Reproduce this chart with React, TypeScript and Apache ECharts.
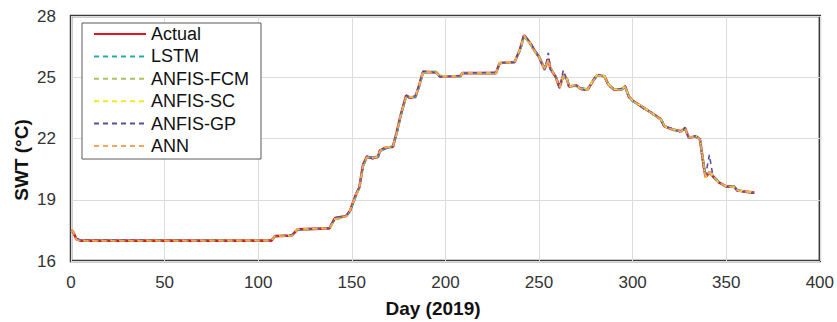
import React, { useEffect, useRef } from "react";
import * as echarts from "echarts";

const days = [0,1,3,5,107,109,118,121,138,141,
147,149,152,154,156,158,161,164,165,168,
172,174,176,179,181,184,186,188,195,197,
208,209,227,229,237,240,242,245,248,250,
253,255,256,259,261,263,265,266,270,272,
276,279,281,285,287,290,294,296,298,300,
306,311,315,317,321,326,328,330,334,336,
338,339,341,343,346,350,354,356,360,365];

const actual = [17.5,17.45,17.05,17.0,17.0,17.22,17.25,17.55,17.6,18.1,
18.2,18.45,19.2,19.6,20.7,21.1,21.05,21.1,21.4,21.55,
21.6,22.3,23.1,24.1,24.0,24.05,24.6,25.25,25.25,25.05,
25.05,25.2,25.2,25.7,25.75,26.4,27.05,26.7,26.25,26.0,
25.4,25.9,25.45,25.0,24.5,25.1,24.9,24.55,24.6,24.45,
24.4,24.85,25.1,25.05,24.65,24.4,24.4,24.55,24.05,23.85,
23.5,23.2,22.95,22.6,22.45,22.35,22.5,22.05,22.1,21.95,
20.65,20.1,20.35,20.15,19.85,19.65,19.65,19.45,19.4,19.35];

const lstm = [17.48,17.4,17.1,17.02,17.02,17.2,17.27,17.5,17.62,18.05,
18.22,18.4,19.1,19.65,20.6,21.05,21.1,21.08,21.35,21.5,
21.65,22.2,23.0,24.05,24.05,24.0,24.5,25.2,25.28,25.08,
25.03,25.18,25.22,25.65,25.78,26.3,26.95,26.75,26.3,26.05,
25.45,25.8,25.5,25.05,24.55,25.0,24.95,24.6,24.55,24.5,
24.42,24.8,25.05,25.08,24.7,24.45,24.38,24.5,24.1,23.8,
23.55,23.15,23.0,22.65,22.4,22.38,22.45,22.1,22.05,22.0,
20.75,20.2,20.3,20.2,19.9,19.6,19.68,19.5,19.38,19.33];

const anfisFcm = [17.45,17.42,17.08,17.0,16.98,17.18,17.24,17.52,17.58,18.0,
18.18,18.42,19.15,19.55,20.65,21.12,21.02,21.12,21.38,21.52,
21.58,22.25,23.05,24.0,24.02,24.08,24.55,25.22,25.23,25.1,
25.02,25.22,25.18,25.68,25.72,26.35,27.0,26.65,26.2,26.02,
25.42,25.85,25.48,24.95,24.52,25.05,24.88,24.58,24.62,24.42,
24.38,24.9,25.08,25.02,24.62,24.42,24.42,24.52,24.08,23.82,
23.48,23.22,22.92,22.62,22.48,22.33,22.48,22.08,22.08,21.9,
20.7,20.15,20.38,20.12,19.82,19.68,19.62,19.48,19.42,19.36];

const anfisSc = [17.52,17.46,17.06,17.01,17.01,17.24,17.26,17.56,17.61,18.08,
18.21,18.47,19.22,19.58,20.72,21.08,21.06,21.09,21.42,21.56,
21.62,22.32,23.12,24.08,24.02,24.06,24.62,25.26,25.24,25.06,
25.06,25.21,25.21,25.72,25.76,26.42,27.02,26.72,26.22,25.98,
25.38,25.92,25.44,25.02,24.48,25.12,24.92,24.56,24.58,24.46,
24.41,24.86,25.12,25.06,24.66,24.41,24.41,24.56,24.04,23.86,
23.52,23.18,22.96,22.58,22.46,22.36,22.52,22.04,22.12,21.96,
20.6,20.08,20.36,20.16,19.84,19.66,19.64,19.44,19.41,19.34];

const anfisGp = [17.5,17.4,17.1,17.03,17.0,17.2,17.28,17.52,17.6,18.12,
18.22,18.4,19.25,19.62,20.75,21.15,21.0,21.12,21.45,21.5,
21.62,22.35,23.05,24.15,23.95,24.1,24.65,25.3,25.22,25.02,
25.08,25.2,25.24,25.7,25.72,26.45,27.1,26.75,26.3,25.95,
25.35,26.2,25.4,25.0,24.45,25.35,24.85,24.55,24.6,24.4,
24.35,24.88,25.15,25.02,24.6,24.38,24.45,24.6,24.0,23.88,
23.45,23.25,22.9,22.55,22.5,22.3,22.55,22.0,22.15,21.92,
20.55,20.2,21.2,20.1,19.88,19.62,19.7,19.42,19.38,19.32];

const ann = [17.46,17.44,17.04,16.99,17.0,17.21,17.23,17.54,17.59,18.06,
18.19,18.44,19.18,19.62,20.68,21.09,21.04,21.11,21.39,21.54,
21.59,22.28,23.08,24.06,24.01,24.04,24.58,25.24,25.26,25.04,
25.04,25.19,25.19,25.69,25.74,26.38,27.04,26.68,26.24,26.01,
25.41,25.88,25.46,24.99,24.51,25.08,24.91,24.54,24.61,24.44,
24.39,24.84,25.09,25.04,24.64,24.39,24.39,24.54,24.06,23.84,
23.51,23.19,22.94,22.61,22.44,22.34,22.49,22.06,22.09,21.94,
20.66,20.11,20.34,20.14,19.86,19.64,19.66,19.46,19.39,19.36];

const seriesNames = ["Actual", "LSTM", "ANFIS-FCM", "ANFIS-SC", "ANFIS-GP", "ANN"];
const seriesValues = [actual, lstm, anfisFcm, anfisSc, anfisGp, ann];
const seriesColors = ["#e0141c", "#2aa8b2", "#a9c45c", "#ecec1e", "#5a4f9a", "#f5a65b"];

const FONT = "'Liberation Sans', Arial, sans-serif";

export default function App() {
  const ref = useRef<HTMLDivElement>(null);
  useEffect(() => {
    if (!ref.current) return;
    const chart = echarts.init(ref.current, null, { renderer: "svg" });
    const series = seriesNames.map((name, i) => ({
      name,
      type: "line",
      data: days.map((d, k) => [d, seriesValues[i][k]]),
      symbol: "none",
      showSymbol: false,
      lineStyle: i === 0
        ? { color: seriesColors[i], width: 2.6, type: "solid" }
        : { color: seriesColors[i], width: 1.6, type: [5, 4] },
      itemStyle: { color: seriesColors[i] },
      z: 2 + i,
    }));
    chart.setOption({
      animation: false,
      backgroundColor: "#ffffff",
      textStyle: { fontFamily: FONT },
      grid: {
        left: 71, right: 16, top: 16, bottom: 61,
        show: true, borderColor: "#3a3a3a", borderWidth: 2.5, backgroundColor: "transparent",
      },
      legend: {
        orient: "vertical",
        left: 82, top: 23,
        data: seriesNames,
        borderColor: "#5a5a5a", borderWidth: 1,
        backgroundColor: "#ffffff",
        padding: [2, 12, 4, 11],
        itemWidth: 52, itemHeight: 14, itemGap: 4.4,
        itemStyle: { opacity: 0 },
        textStyle: { fontSize: 18, color: "#111", fontFamily: FONT, lineHeight: 18, padding: [0, 0, 0, 0] },
      },
      xAxis: {
        type: "value", min: 0, max: 400, interval: 50,
        axisLine: { show: false }, axisTick: { show: false },
        splitLine: { show: true, lineStyle: { color: "#dcdcdc", width: 1 } },
        axisLabel: { fontSize: 17, color: "#333", margin: 13, fontFamily: FONT },
      },
      yAxis: {
        type: "value", min: 16, max: 28, interval: 3,
        axisLine: { show: false }, axisTick: { show: false },
        splitLine: { show: true, lineStyle: { color: "#dcdcdc", width: 1 } },
        axisLabel: { fontSize: 17, color: "#333", margin: 15, fontFamily: FONT },
      },
      graphic: [
        {
          type: "text", x: 433, y: 308,
          style: { text: "Day (2019)", fontSize: 19, fontWeight: "bold", fill: "#111", fontFamily: FONT, textAlign: "center", textVerticalAlign: "middle" },
        },
        {
          type: "text", x: 21, y: 160, rotation: Math.PI / 2,
          style: { text: "SWT (°C)", fontSize: 19, fontWeight: "bold", fill: "#111", fontFamily: FONT, textAlign: "center", textVerticalAlign: "middle" },
        },
      ],
      series,
    });
    return () => chart.dispose();
  }, []);
  return <div ref={ref} style={{ width: 837, height: 322, position: "absolute", left: 0, top: 0, background: "#fff" }} />;
}
